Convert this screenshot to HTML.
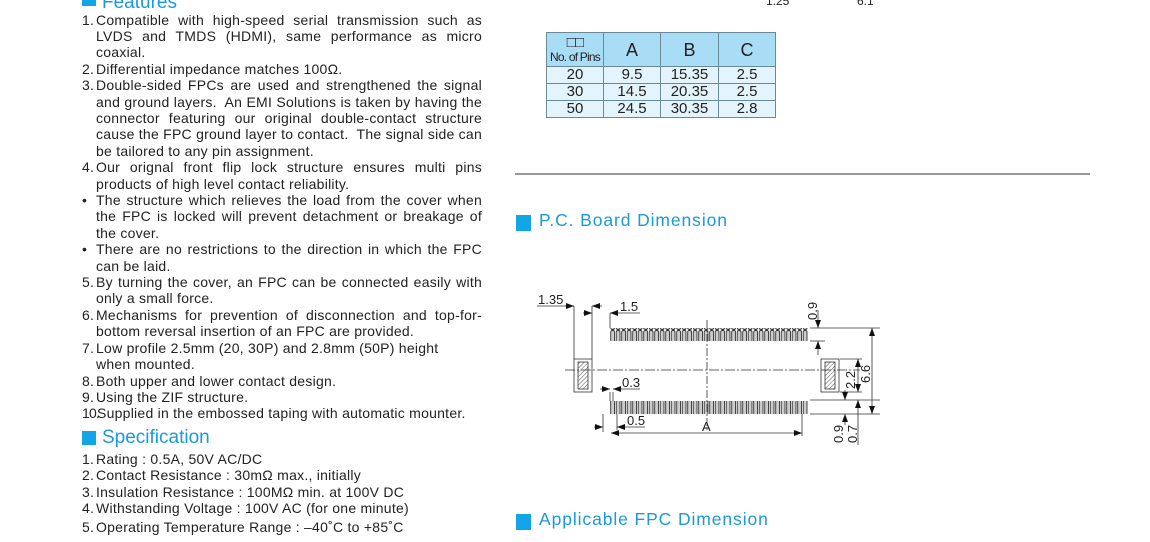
<!DOCTYPE html>
<html><head><meta charset="utf-8"><style>
html,body{margin:0;padding:0;background:#fff;width:1150px;height:542px;overflow:hidden;position:relative;font-family:"Liberation Sans",sans-serif;color:#222}
.n{position:absolute;font-size:14px;line-height:16px;left:82px;letter-spacing:0.2px}
.j{position:absolute;left:96px;width:386px;font-size:14px;line-height:16px;text-align:justify;text-align-last:justify;white-space:nowrap;letter-spacing:0.25px}
.t{position:absolute;left:96px;font-size:14px;line-height:16px;white-space:nowrap;letter-spacing:0.25px}
.h{position:absolute;color:#1a9ad9;font-size:19px;line-height:20px}
.h2{position:absolute;color:#1a9ad9;font-size:17.5px;line-height:20px;letter-spacing:0.9px}
.sq{position:absolute;background:#12a6e8}
table{position:absolute;left:546px;top:32px;border-collapse:collapse;font-size:15px}
td{border:1px solid #6a8a9a;text-align:center;padding:0;height:16px;line-height:16px}
tr.hd td{background:#a9dcf5;height:33px;font-size:18px}
tr.r td{background:#e4f4fc}
</style></head><body>
<div class="sq" style="left:82px;top:-8px;width:14px;height:14px"></div>
<div class="h" style="left:102px;top:-7px">Features</div>

<div class="n" style="top:12px">1.</div><div class="j" style="top:12px">Compatible with high-speed serial transmission such as</div>
<div class="j" style="top:28px">LVDS and TMDS (HDMI), same performance as micro</div>
<div class="t" style="top:44px">coaxial.</div>
<div class="n" style="top:61px">2.</div><div class="t" style="top:61px">Differential impedance matches 100Ω.</div>
<div class="n" style="top:77px">3.</div><div class="j" style="top:77px">Double-sided FPCs are used and strengthened the signal</div>
<div class="j" style="top:94px">and ground layers.&nbsp; An EMI Solutions is taken by having the</div>
<div class="j" style="top:110px">connector featuring our original double-contact structure</div>
<div class="j" style="top:126px">cause the FPC ground layer to contact.&nbsp; The signal side can</div>
<div class="t" style="top:143px">be tailored to any pin assignment.</div>
<div class="n" style="top:159px">4.</div><div class="j" style="top:159px">Our orignal front flip lock structure ensures multi pins</div>
<div class="t" style="top:176px">products of high level contact reliability.</div>
<div class="n" style="top:192px">•</div><div class="j" style="top:192px">The structure which relieves the load from the cover when</div>
<div class="j" style="top:208px">the FPC is locked will prevent detachment or breakage of</div>
<div class="t" style="top:225px">the cover.</div>
<div class="n" style="top:241px">•</div><div class="j" style="top:241px">There are no restrictions to the direction in which the FPC</div>
<div class="t" style="top:258px">can be laid.</div>
<div class="n" style="top:274px">5.</div><div class="j" style="top:274px">By turning the cover, an FPC can be connected easily with</div>
<div class="t" style="top:290px">only a small force.</div>
<div class="n" style="top:307px">6.</div><div class="j" style="top:307px">Mechanisms for prevention of disconnection and top-for-</div>
<div class="t" style="top:323px">bottom reversal insertion of an FPC are provided.</div>
<div class="n" style="top:340px">7.</div><div class="t" style="top:340px">Low profile 2.5mm (20, 30P) and 2.8mm (50P) height</div>
<div class="t" style="top:356px">when mounted.</div>
<div class="n" style="top:373px">8.</div><div class="t" style="top:373px">Both upper and lower contact design.</div>
<div class="n" style="top:389px">9.</div><div class="t" style="top:389px">Using the ZIF structure.</div>
<div class="n" style="top:405px;letter-spacing:-0.8px">10.</div><div class="t" style="top:405px;left:97px">Supplied in the embossed taping with automatic mounter.</div>

<div class="sq" style="left:82px;top:431px;width:14px;height:14px"></div>
<div class="h" style="left:102px;top:428px">Specification</div>
<div class="n" style="top:451px">1.</div><div class="t" style="top:451px">Rating : 0.5A, 50V AC/DC</div>
<div class="n" style="top:467px">2.</div><div class="t" style="top:467px">Contact Resistance : 30mΩ max., initially</div>
<div class="n" style="top:484px">3.</div><div class="t" style="top:484px">Insulation Resistance : 100MΩ min. at 100V DC</div>
<div class="n" style="top:500px">4.</div><div class="t" style="top:500px">Withstanding Voltage : 100V AC (for one minute)</div>
<div class="n" style="top:519px">5.</div><div class="t" style="top:519px">Operating Temperature Range : –40˚C to +85˚C</div>

<table>
<colgroup><col style="width:57px"><col style="width:57px"><col style="width:58px"><col style="width:57px"></colgroup>
<tr class="hd"><td style="font-size:12px;line-height:14px;letter-spacing:-0.8px"><span style="font-size:15px">□□</span><br>No. of Pins</td><td>A</td><td>B</td><td>C</td></tr>
<tr class="r"><td>20</td><td>9.5</td><td>15.35</td><td>2.5</td></tr>
<tr class="r"><td>30</td><td>14.5</td><td>20.35</td><td>2.5</td></tr>
<tr class="r"><td>50</td><td>24.5</td><td>30.35</td><td>2.8</td></tr>
</table>

<div style="position:absolute;left:515px;top:173px;width:575px;height:2px;background:#999"></div>
<div class="sq" style="left:516px;top:215px;width:15px;height:16px"></div>
<div class="h2" style="left:539px;top:210px">P.C. Board Dimension</div>
<div class="sq" style="left:516px;top:514px;width:15px;height:16px"></div>
<div class="h2" style="left:539px;top:509px">Applicable FPC Dimension</div>

<svg style="position:absolute;left:0;top:0" width="1150" height="542" font-family="Liberation Sans, sans-serif" font-size="13" fill="#222">
<defs>
<pattern id="pins" x="610" y="0" width="5.5" height="30" patternUnits="userSpaceOnUse">
<rect x="0.7" y="0.5" width="3.8" height="29" rx="1.5" fill="#ccc" stroke="#333" stroke-width="0.9"/>
</pattern>
<pattern id="hat" width="3" height="3" patternUnits="userSpaceOnUse" patternTransform="rotate(45)">
<line x1="0" y1="0" x2="0" y2="3" stroke="#555" stroke-width="1"/>
</pattern>
<marker id="a" markerUnits="userSpaceOnUse" markerWidth="8" markerHeight="6" refX="8" refY="3" orient="auto"><path d="M0,0 L8,3 L0,6z" fill="#111"/></marker>
</defs>
<text x="766" y="5" font-size="12">1.25</text><text x="857" y="5" font-size="12">6.1</text>
<g stroke="#333" stroke-width="0.8" fill="none">
<rect x="610" y="328" width="198" height="13" fill="url(#pins)" stroke="none"/>
<rect x="610" y="401" width="198" height="13" fill="url(#pins)" stroke="none"/>
<line x1="707" y1="320" x2="707" y2="432" stroke-dasharray="8,2,2,2"/>
<line x1="565" y1="370" x2="860" y2="370" stroke-dasharray="10,2,2,2"/>
<rect x="574" y="359" width="18" height="33" stroke="#333"/>
<rect x="578" y="362" width="10" height="27" fill="url(#hat)"/>
<rect x="821" y="359" width="18" height="33" stroke="#333"/>
<rect x="825" y="362" width="10" height="27" fill="url(#hat)"/>
<line x1="574" y1="306" x2="574" y2="359"/><line x1="592" y1="306" x2="592" y2="359"/>
<line x1="537" y1="306" x2="567" y2="306"/><line x1="565" y1="306" x2="574" y2="306" marker-end="url(#a)"/>
<line x1="602" y1="306" x2="592" y2="306" marker-end="url(#a)"/>
<line x1="610" y1="313" x2="610" y2="328"/>
<line x1="583" y1="313" x2="592" y2="313" marker-end="url(#a)"/>
<line x1="640" y1="313" x2="610" y2="313" marker-end="url(#a)"/>
<line x1="810" y1="328" x2="880" y2="328"/><line x1="810" y1="341" x2="825" y2="341"/>
<line x1="810" y1="400" x2="880" y2="400"/><line x1="810" y1="414" x2="880" y2="414"/>
<line x1="840" y1="359" x2="862" y2="359"/><line x1="840" y1="392" x2="862" y2="392"/>
<line x1="818" y1="310" x2="818" y2="328" marker-end="url(#a)"/>
<line x1="818" y1="355" x2="818" y2="341" marker-end="url(#a)"/>
<line x1="872" y1="370" x2="872" y2="328" marker-end="url(#a)"/>
<line x1="872" y1="370" x2="872" y2="414" marker-end="url(#a)"/>
<line x1="858" y1="375" x2="858" y2="359" marker-end="url(#a)"/>
<line x1="858" y1="375" x2="858" y2="392" marker-end="url(#a)"/>
<line x1="845" y1="390" x2="845" y2="400" marker-end="url(#a)"/>
<line x1="845" y1="425" x2="845" y2="414" marker-end="url(#a)"/>
<line x1="858" y1="445" x2="858" y2="400" marker-end="url(#a)"/>
<line x1="610" y1="392" x2="610" y2="401"/><line x1="613" y1="392" x2="613" y2="401"/>
<line x1="600" y1="389" x2="610" y2="389" marker-end="url(#a)"/>
<line x1="640" y1="389" x2="613" y2="389" marker-end="url(#a)"/>
<line x1="603" y1="414" x2="603" y2="432"/><line x1="617" y1="414" x2="617" y2="430"/><line x1="802" y1="414" x2="802" y2="436"/>
<line x1="594" y1="427" x2="603" y2="427" marker-end="url(#a)"/>
<line x1="645" y1="427" x2="617" y2="427" marker-end="url(#a)"/>
<line x1="707" y1="433" x2="611" y2="433" marker-end="url(#a)"/>
<line x1="707" y1="433" x2="802" y2="433" marker-end="url(#a)"/>
</g>
<text x="538" y="304">1.35</text>
<text x="620" y="311">1.5</text>
<text x="622" y="387">0.3</text>
<text x="627" y="425">0.5</text>
<text x="702" y="431">A</text>
<text transform="translate(817,320) rotate(-90)">0.9</text>
<text transform="translate(855,389) rotate(-90)">2.2</text>
<text transform="translate(870,383) rotate(-90)">6.6</text>
<text transform="translate(843,443) rotate(-90)">0.9</text>
<text transform="translate(857,443) rotate(-90)">0.7</text>
</svg>
</body></html>
